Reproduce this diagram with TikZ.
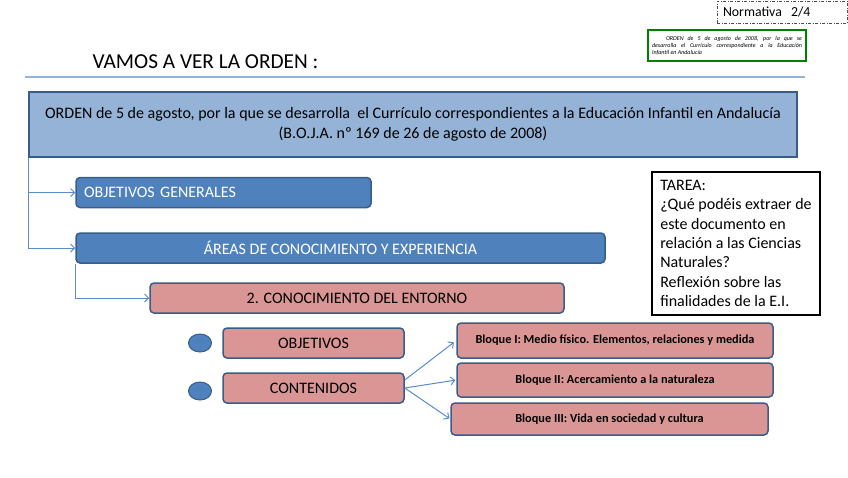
\documentclass[tikz,border=0pt]{standalone}
\usepackage{fontspec}
\setmainfont{Carlito}
\usetikzlibrary{arrows.meta,shapes.geometric}
\definecolor{boxblue}{RGB}{79,129,189}
\definecolor{edgeblue}{RGB}{56,93,138}
\definecolor{paleblue}{RGB}{149,179,215}
\definecolor{rosefill}{RGB}{217,150,148}
\definecolor{linkblue}{RGB}{91,139,203}
\definecolor{framegreen}{RGB}{0,128,0}
\begin{document}
\begin{tikzpicture}[x=1pt,y=-1pt,
    bluebox/.style={draw=edgeblue,line width=1.5pt,fill=boxblue,rounded corners=4pt,text=white,
      font=\fontsize{16}{19}\selectfont,minimum height=30pt,inner sep=0pt},
    rosebox/.style={draw=edgeblue,line width=1.5pt,fill=rosefill,rounded corners=4pt,
      font=\fontsize{16}{19}\selectfont,minimum height=30pt,inner sep=0pt},
    blockbox/.style={rosebox,font=\fontsize{12.3}{14}\selectfont\bfseries},
    bullet/.style={ellipse,draw=edgeblue,line width=1pt,fill=boxblue,minimum width=23pt,minimum height=18pt,inner sep=0pt},
    link/.style={draw=linkblue,line width=1pt,-{Straight Barb[length=4pt,width=8pt]}}]
    \useasboundingbox (0,0) rectangle (848,477);
    \node [draw=black!70,line width=0.8pt,dash pattern=on 3pt off 1.5pt on 1pt off 1.5pt,
      minimum width=130pt,minimum height=22pt,inner xsep=6pt,text width=118pt,align=left,
      font=\fontsize{13.8}{16}\selectfont] (norm) at (782,12) {Normativa\ \ 2/4};
    \node [draw=framegreen,line width=2.5pt,minimum width=158pt,minimum height=31pt,inner sep=0pt,
      text width=150pt,align=justify,font=\fontsize{6}{7}\selectfont\itshape] (ref) at (727,45.5)
      {\hspace*{14pt}ORDEN de 5 de agosto de 2008, por la que se\linebreak desarrolla el Currículo correspondiente a la Educación\linebreak Infantil en Andalucía};
    \node [font=\fontsize{21.3}{25}\selectfont] (title) at (205.5,62) {VAMOS A VER LA ORDEN :};
    \draw [paleblue,line width=1.5pt] (25,77) -- (805,77);
    \node [draw=edgeblue,line width=1.5pt,fill=paleblue,minimum width=768pt,minimum height=65pt,
      align=center,font=\fontsize{16}{19.5}\selectfont] (orden) at (413,124.5)
      {ORDEN de 5 de agosto, por la que se desarrolla\ \ el Currículo correspondientes a la Educación Infantil en Andalucía\\(B.O.J.A. nº 169 de 26 de agosto de 2008)};
    \node [bluebox,minimum width=295pt,text width=279pt,align=left] (objgen) at (223.5,192.5) {OBJETIVOS GENERALES};
    \node [bluebox,minimum width=529pt] (areas) at (340.5,248) {ÁREAS DE CONOCIMIENTO Y EXPERIENCIA};
    \node [rosebox,minimum width=414pt] (conoc) at (357,298) {2. CONOCIMIENTO DEL ENTORNO};
    \node [bullet] (dot1) at (200,343) {};
    \node [bullet] (dot2) at (200,391) {};
    \node [rosebox,minimum width=181pt] (obj) at (313.5,343) {OBJETIVOS};
    \node [rosebox,minimum width=181pt] (cont) at (313.5,388) {CONTENIDOS};
    \node [blockbox,minimum width=316pt,minimum height=35pt] (b1) at (615,340.5) {Bloque I: Medio físico. Elementos, relaciones y medida};
    \node [blockbox,minimum width=316pt,minimum height=34pt] (b2) at (615,380) {Bloque II: Acercamiento a la naturaleza};
    \node [blockbox,minimum width=317pt,minimum height=32pt] (b3) at (609.5,419) {Bloque III: Vida en sociedad y cultura};
    \node [draw=black,line width=1.5pt,minimum width=168pt,minimum height=143pt,align=left,
      font=\fontsize{16}{19.3}\selectfont] (tarea) at (736,243.5)
      {TAREA:\\¿Qué podéis extraer de\\este documento en\\relación a las Ciencias\\Naturales?\\Reflexión sobre las\\finalidades de la E.I.};
    \draw [link] (orden.south west) |- (objgen.west);
    \draw [link] (orden.south west) |- (areas.west);
    \draw [link] (areas.south west) |- (conoc.west);
    \draw [link,shorten >=3pt] ([yshift=8pt]cont.east) -- (b1.west);
    \draw [link,shorten >=1pt] (cont.east) -- (b2.west);
    \draw [link,shorten >=1pt] (cont.east) -- (b3.west);
\end{tikzpicture}
\end{document}
